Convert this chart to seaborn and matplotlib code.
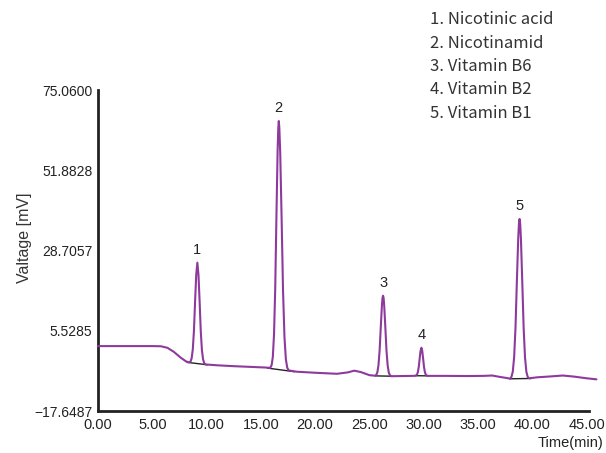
import matplotlib
matplotlib.use("Agg")
import matplotlib.pyplot as plt
import seaborn as sns
import pandas as pd

# chromatogram trace (time in min, signal in mV)
time_min = [0.0, 5.0, 5.8, 6.4, 7.0, 7.6, 8.1, 8.35,
            8.52, 8.625, 8.73, 8.835, 8.94, 9.045, 9.15, 9.255, 9.36, 9.465, 9.57, 9.675, 9.78,
            9.9, 11.0, 12.5, 14.0, 15.5, 15.85,
            15.99, 16.10, 16.21, 16.32, 16.43, 16.54, 16.60, 16.65, 16.70, 16.78, 16.91, 17.04, 17.17, 17.30, 17.43, 17.56,
            17.7, 18.3, 20.0, 22.0, 23.0, 23.6, 24.2, 25.0, 25.5,
            25.62, 25.725, 25.83, 25.935, 26.04, 26.145, 26.20, 26.25, 26.30, 26.355, 26.46, 26.565, 26.67, 26.775, 26.88,
            27.0, 28.0, 29.0, 29.25,
            29.30, 29.38, 29.46, 29.54, 29.62, 29.70, 29.78, 29.86, 29.94, 30.02, 30.10, 30.18, 30.26,
            30.4, 32.0, 34.0, 35.5, 36.3, 37.0, 37.6, 37.95,
            38.07, 38.195, 38.32, 38.445, 38.57, 38.695, 38.76, 38.82, 38.88, 38.945, 39.07, 39.195, 39.32, 39.445, 39.57,
            39.7, 40.5, 41.5, 42.8, 43.8, 45.0, 45.9]
signal_mv = [1.1, 1.1, 1.05, 0.6, -0.6, -2.2, -3.3, -3.6,
             -3.4, -2.4, 0.15, 5.5, 13.9, 21.7, 25.2, 21.6, 13.8, 5.35, -0.05, -2.7, -3.8,
             -4.2, -4.45, -4.7, -4.9, -5.1, -5.2,
             -4.4, -2.0, 4.5, 17.7, 38.3, 57.5, 64.0, 66.1, 64.0, 57.0, 37.8, 17.0, 3.8, -2.7, -5.2, -5.9,
             -6.0, -6.3, -6.6, -6.9, -6.5, -6.0, -6.4, -7.3, -7.45,
             -7.25, -6.48, -4.37, -0.09, 6.6, 12.9, 15.0, 15.65, 15.0, 12.85, 6.55, -0.15, -4.4, -6.5, -7.3,
             -7.6, -7.55, -7.5, -7.45,
             -7.36, -7.09, -6.36, -4.86, -2.51, -0.32, 0.63, -0.33, -2.53, -4.9, -6.4, -7.12, -7.4,
             -7.5, -7.5, -7.55, -7.5, -7.4, -7.8, -8.1, -8.3,
             -7.8, -6.3, -2.1, 6.4, 19.6, 32.1, 36.3, 37.8, 36.3, 32.1, 19.6, 6.4, -2.1, -6.3, -7.8,
             -8.2, -7.9, -7.7, -7.4, -7.7, -8.2, -8.5]

# integration baselines under each peak (start, end)
base_t0 = [8.2, 15.6, 25.5, 29.2, 37.9]
base_v0 = [-3.6, -5.25, -7.5, -7.45, -8.35]
base_t1 = [10.1, 18.1, 27.1, 30.4, 39.9]
base_v1 = [-4.3, -6.3, -7.6, -7.5, -8.25]

# peak labels
peak_ids = ["1", "2", "3", "4", "5"]
peak_t = [9.15, 16.65, 26.25, 29.78, 38.82]
peak_v = [25.2, 66.1, 15.65, 0.63, 37.8]

compounds = ["1. Nicotinic acid", "2. Nicotinamid", "3. Vitamin B6",
             "4. Vitamin B2", "5. Vitamin B1"]

y_ticks = [-17.6487, 5.5285, 28.7057, 51.8828, 75.0600]
y_tick_labels = ["\u221217.6487", "5.5285", "28.7057", "51.8828", "75.0600"]
x_ticks = [0, 5, 10, 15, 20, 25, 30, 35, 40, 45]

sns.set_style("white")
plt.rcParams['font.family'] = ['Liberation Sans Narrow', 'Liberation Sans', 'DejaVu Sans']

trace = pd.DataFrame({"t": time_min, "v": signal_mv})

fig = plt.figure(figsize=(6.06, 4.53), dpi=100)
ax = fig.add_axes([0.1617, 0.0927, 0.810, 0.7086])

for t0, v0, t1, v1 in zip(base_t0, base_v0, base_t1, base_v1):
    ax.plot([t0, t1], [v0, v1], color="#222222", lw=1.0, zorder=2)

sns.lineplot(data=trace, x="t", y="v", ax=ax, color="#8e3a9d", lw=1.5,
             sort=False, estimator=None, zorder=3, clip_on=False)

for pid, pt, pv in zip(peak_ids, peak_t, peak_v):
    ax.annotate(pid, (pt, pv), xytext=(0, 4), textcoords="offset points",
                ha="center", va="bottom", fontsize=10.5, color="#222222")

ax.set_xlim(0, 45.2)
ax.set_ylim(-17.6487, 75.06)
ax.set_xticks(x_ticks)
ax.set_xticklabels(["%.2f" % x for x in x_ticks], fontsize=10.5, color="#222222")
ax.set_yticks(y_ticks)
ax.set_yticklabels(y_tick_labels, fontsize=10, color="#222222")
ax.tick_params(axis="x", direction="in", length=4, width=1.5, color="#222222", pad=5)
ax.tick_params(axis="y", direction="out", length=3, width=1.5, color="#222222", pad=1)

for side in ["top", "right"]:
    ax.spines[side].set_visible(False)
for side in ["left", "bottom"]:
    ax.spines[side].set_linewidth(2)
    ax.spines[side].set_color("#222222")

ax.set_xlabel("")
ax.set_ylabel("Valtage [mV]", fontsize=11.5, color="#333333")
ax.yaxis.set_label_coords(-0.134, 0.54)

fig.text(603 / 606, 1 - 443 / 453, "Time(min)", ha="right", va="center",
         fontsize=10.5, color="#222222")

for i, name in enumerate(compounds):
    fig.text(430 / 606, 1 - (20 + 23.3 * i) / 453, name, ha="left", va="center",
             fontsize=12, color="#333333", family=['Noto Sans CJK KR', 'DejaVu Sans'])

fig.savefig("out.png", dpi=100)
